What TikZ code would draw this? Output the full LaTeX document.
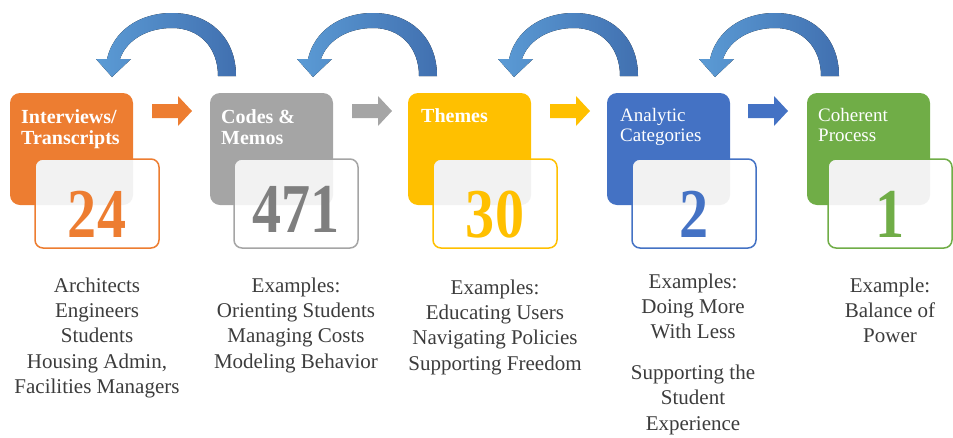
\documentclass[tikz,border=0pt]{standalone}
\usepackage{fontspec}
\setmainfont{Liberation Serif}
\usepackage{graphicx}
\definecolor{cOr}{HTML}{ED7D31}
\definecolor{cGy}{HTML}{A5A5A5}
\definecolor{cGyD}{HTML}{7F7F7F}
\definecolor{cGd}{HTML}{FFC000}
\definecolor{cBl}{HTML}{4472C4}
\definecolor{cGr}{HTML}{70AD47}
\definecolor{cTx}{HTML}{3C3C3C}
\definecolor{arcL}{HTML}{5B9BD5}
\definecolor{arcR}{HTML}{4170B0}
\tikzset{
 backbox/.style={rectangle, rounded corners=10pt, minimum width=123pt, minimum height=112pt, inner sep=0, outer sep=0},
 frontbox/.style={rectangle, rounded corners=8pt, minimum width=124pt, minimum height=89pt, inner sep=0, outer sep=0, fill=white},
 ttl/.style={anchor=base west, inner sep=0, text=white, font=\fontsize{20}{21}\selectfont\bfseries},
 ttlr/.style={anchor=base west, inner sep=0, text=white, font=\fontsize{19}{20.5}\selectfont},
 num/.style={anchor=base, inner sep=0, font=\fontsize{70}{70}\selectfont\bfseries},
 desc/.style={anchor=base, inner sep=0, text=cTx, font=\fontsize{21}{25.4}\selectfont},
 overlapfill/.style={fill=black!5},
 bluearc/.style={left color=arcL, right color=arcR},
}
\newcommand{\mkstage}[4]{%
 \node[backbox, fill=#2] (b#1) at (#3+61.5, 149) {};
 \node[frontbox] (f#1) at (#4+62, 203.5) {};
 \begin{scope}
  \clip[rounded corners=8pt] (f#1.south west) rectangle (f#1.north east);
  \fill[overlapfill, rounded corners=10pt] (b#1.south west) rectangle (b#1.north east);
 \end{scope}
 \draw[#2, line width=1.5pt, rounded corners=8pt] (f#1.south west) rectangle (f#1.north east);
}
\newcommand{\mkarc}[1]{%
 \begin{scope}[xshift=#1pt]
 \fill[bluearc] (236,76) .. controls (236,38) and (210,13) .. (172,13)
   .. controls (138,13) and (113,32) .. (107,59) -- (96,59) -- (112,77) -- (131,59) -- (120,59)
   .. controls (126,41) and (146,28) .. (172,28)
   .. controls (200,28) and (218,48) .. (218,76) -- cycle;
 \end{scope}}
\newcommand{\mkarrow}[2]{%
 \fill[#2] (#1,104) -- (#1+26,104) -- (#1+26,96) -- (#1+40,111) -- (#1+26,126) -- (#1+26,118) -- (#1,118) -- cycle;}
\begin{document}
\begin{tikzpicture}[x=1pt,y=-1pt]
\useasboundingbox (0,0) rectangle (953,437);
% curved feedback arrows
\mkarc{0}
\mkarc{201}
\mkarc{402}
\mkarc{603}
% stages
\mkstage{1}{cOr}{10}{35}
\mkstage{2}{cGy}{210}{234}
\mkstage{3}{cGd}{408}{433}
\mkstage{4}{cBl}{607}{632}
\mkstage{5}{cGr}{807}{828}
% forward arrows
\mkarrow{152}{cOr}
\mkarrow{352}{cGy}
\mkarrow{550}{cGd}
\mkarrow{748}{cBl}
% titles
\node[ttl] (t1) at (21,123) {\begin{tabular}[t]{@{}l@{}}Interviews/\\Transcripts\end{tabular}};
\node[ttl] (t2) at (221,123) {\begin{tabular}[t]{@{}l@{}}Codes \&\\Memos\end{tabular}};
\node[ttl] (t3) at (421,122) {\begin{tabular}[t]{@{}l@{}}Themes\end{tabular}};
\node[ttlr] (t4) at (620,121) {\begin{tabular}[t]{@{}l@{}}Analytic\\Categories\end{tabular}};
\node[ttlr] (t5) at (818,121) {\begin{tabular}[t]{@{}l@{}}Coherent\\Process\end{tabular}};
% numbers
\node[num, text=cOr] (n1) at (f1.south |- 0,237) {\scalebox{0.83}[1]{24}};
\node[num, text=cGyD] (n2) at (f2.south |- 0,232) {\scalebox{0.83}[1]{471}};
\node[num, text=cGd] (n3) at (f3.south |- 0,237) {\scalebox{0.83}[1]{30}};
\node[num, text=cBl] (n4) at (f4.south |- 0,237) {\scalebox{0.83}[1]{2}};
\node[num, text=cGr] (n5) at (f5.south |- 0,237) {\scalebox{0.83}[1]{1}};
% descriptions
\node[desc] (d1) at (97,292) {\begin{tabular}[t]{@{}c@{}}Architects\\Engineers\\Students\\Housing Admin,\\Facilities Managers\end{tabular}};
\node[desc] (d2) at (296,292) {\begin{tabular}[t]{@{}c@{}}Examples:\\Orienting Students\\Managing Costs\\Modeling Behavior\end{tabular}};
\node[desc] (d3) at (495,294) {\begin{tabular}[t]{@{}c@{}}Examples:\\Educating Users\\Navigating Policies\\Supporting Freedom\end{tabular}};
\node[desc] (d4) at (693,288) {\begin{tabular}[t]{@{}c@{}}Examples:\\Doing More\\With Less\\[15pt]Supporting the\\Student\\Experience\end{tabular}};
\node[desc] (d5) at (890,292) {\begin{tabular}[t]{@{}c@{}}Example:\\Balance of\\Power\end{tabular}};
\end{tikzpicture}
\end{document}
